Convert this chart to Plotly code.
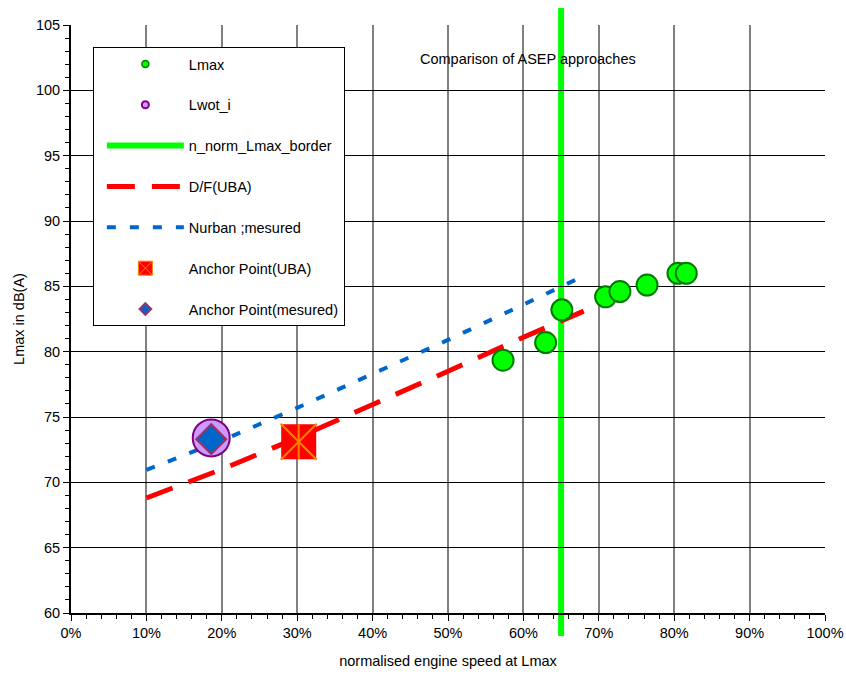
import plotly.graph_objects as go

# ---------------- data ----------------
lmax_x = [57.3, 62.95, 65.1, 70.9, 72.8, 76.4, 80.5, 81.6]
lmax_y = [79.35, 80.7, 83.2, 84.2, 84.6, 85.1, 86.0, 86.0]

lwot_x = [18.6]
lwot_y = [73.4]

anchor_uba_x = [30.2]
anchor_uba_y = [73.1]

anchor_mes_x = [18.6]
anchor_mes_y = [73.3]

border_x = 65.0  # n_norm_Lmax_border

df_uba_x = [10, 20, 30, 40, 50, 60, 68]
df_uba_y = [68.8, 71.0, 73.4, 75.9, 78.5, 81.1, 83.1]

nurban_x = [10, 20, 30, 40, 50, 60, 68]
nurban_y = [70.95, 73.2, 75.7, 78.3, 80.9, 83.6, 85.8]

x_tick_vals = [0, 10, 20, 30, 40, 50, 60, 70, 80, 90, 100]
x_tick_text = ["0%", "10%", "20%", "30%", "40%", "50%", "60%", "70%", "80%", "90%", "100%"]
y_tick_vals = [60, 65, 70, 75, 80, 85, 90, 95, 100, 105]

# ---------------- styles ----------------
GREEN = "#00FF00"
DKGREEN = "#007A00"
RED = "#FF0000"
BLUE = "#0066CC"
LILAC = "#CC99FF"
PURPLE = "#800080"
PLUM = "#993366"
ORANGE = "#FF8000"
FONT = "Liberation Sans, Arial, sans-serif"
FS = 14.5

fig = go.Figure()

# lines
fig.add_trace(go.Scatter(x=df_uba_x, y=df_uba_y, mode="lines", showlegend=False,
                         line=dict(color=RED, width=5, dash="28px,17px")))
fig.add_trace(go.Scatter(x=nurban_x, y=nurban_y, mode="lines", showlegend=False,
                         line=dict(color=BLUE, width=4, dash="9px,14px")))

# markers
fig.add_trace(go.Scatter(x=lmax_x, y=lmax_y, mode="markers", showlegend=False,
                         marker=dict(symbol="circle", size=21, color=GREEN,
                                     line=dict(color=DKGREEN, width=2))))
fig.add_trace(go.Scatter(x=lwot_x, y=lwot_y, mode="markers", showlegend=False,
                         marker=dict(symbol="circle", size=37, color=LILAC,
                                     line=dict(color=PURPLE, width=2))))
fig.add_trace(go.Scatter(x=anchor_mes_x, y=anchor_mes_y, mode="markers", showlegend=False,
                         marker=dict(symbol="diamond", size=23, color=BLUE,
                                     line=dict(color=PLUM, width=2))))
fig.add_trace(go.Scatter(x=anchor_uba_x, y=anchor_uba_y, mode="markers", showlegend=False,
                         marker=dict(symbol="square", size=35, color=RED,
                                     line=dict(width=0))))
fig.add_trace(go.Scatter(x=anchor_uba_x, y=anchor_uba_y, mode="markers", showlegend=False,
                         marker=dict(symbol="x-thin-open", size=36, color=ORANGE,
                                     line=dict(color=ORANGE, width=2))))
fig.add_trace(go.Scatter(x=anchor_uba_x, y=anchor_uba_y, mode="markers", showlegend=False,
                         marker=dict(symbol="line-ns-open", size=25, color=ORANGE,
                                     line=dict(color=ORANGE, width=2))))

# legend proxies
legend_items = [
    dict(name="Lmax", mode="markers",
         marker=dict(symbol="circle", size=7, color=GREEN, line=dict(color=DKGREEN, width=1.5))),
    dict(name="Lwot_i", mode="markers",
         marker=dict(symbol="circle", size=7, color=LILAC, line=dict(color=PURPLE, width=2))),
    dict(name="n_norm_Lmax_border", mode="lines",
         line=dict(color=GREEN, width=6)),
    dict(name="D/F(UBA)", mode="lines",
         line=dict(color=RED, width=5, dash="28px,17px")),
    dict(name="Nurban ;mesured", mode="lines",
         line=dict(color=BLUE, width=4, dash="9px,14px")),
    dict(name="Anchor Point(UBA)", mode="markers",
         marker=dict(symbol="square-x", size=14, color=RED, line=dict(color=ORANGE, width=1))),
    dict(name="Anchor Point(mesured)", mode="markers",
         marker=dict(symbol="diamond", size=9, color=BLUE, line=dict(color=PLUM, width=2))),
]
for i, it in enumerate(legend_items):
    fig.add_trace(go.Scatter(x=[None], y=[None], legendgroup=f"g{i}", showlegend=True, **it))

# vertical border line
fig.add_shape(type="line", xref="x", yref="paper", x0=border_x, x1=border_x,
              y0=-0.039, y1=1.029, layer="between",
              line=dict(color=GREEN, width=6))

fig.add_annotation(text="Comparison of ASEP approaches", xref="paper", yref="paper",
                   x=0.606, y=0.942, xanchor="center", yanchor="middle", showarrow=False,
                   font=dict(size=FS, color="black", family=FONT))

fig.update_layout(
    width=846, height=676,
    margin=dict(l=71, r=21, t=25, b=63, autoexpand=False),
    paper_bgcolor="white", plot_bgcolor="white",
    font=dict(family=FONT, size=FS, color="black"),
    legend=dict(x=0.029, y=0.9626, xanchor="left", yanchor="top",
                bordercolor="black", borderwidth=1, bgcolor="white",
                itemwidth=77, indentation=8, tracegroupgap=19,
                font=dict(size=FS, family=FONT),
                traceorder="grouped"),
)

fig.update_xaxes(range=[0, 100], tickvals=x_tick_vals, ticktext=x_tick_text,
                 automargin=False, ticklabeloverflow="allow",
                 showgrid=True, gridcolor="#808080", gridwidth=1.5,
                 showline=True, linecolor="black", linewidth=2,
                 ticks="outside", ticklen=6, tickcolor="black", tickwidth=1,
                 minor=dict(dtick=2, ticks="outside", ticklen=4, tickcolor="black", showgrid=False),
                 zeroline=False,
                 title=dict(text="normalised engine speed at Lmax", font=dict(size=FS), standoff=15))
fig.update_yaxes(range=[60, 105], tickvals=y_tick_vals,
                 automargin=False,
                 showgrid=True, gridcolor="black", gridwidth=1,
                 showline=True, linecolor="black", linewidth=2,
                 ticks="outside", ticklen=6, tickcolor="black", tickwidth=1,
                 minor=dict(dtick=1, ticks="outside", ticklen=4, tickcolor="black", showgrid=False),
                 zeroline=False,
                 title=dict(text="Lmax in dB(A)", font=dict(size=FS), standoff=8))

fig.write_html("out.html")
